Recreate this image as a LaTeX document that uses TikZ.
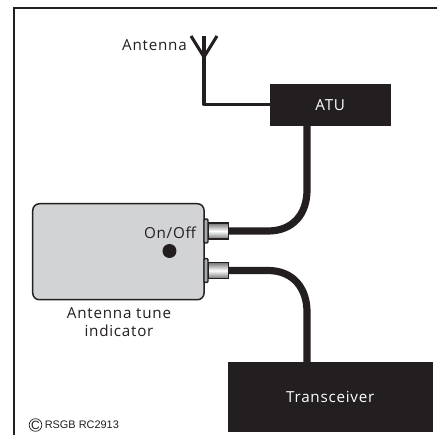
\documentclass[tikz,border=0pt]{standalone}
\usepackage{fontspec}
\setmainfont{Open Sans}[LetterSpace=5]
\newfontfamily\smallf{Liberation Sans}
\definecolor{ink}{HTML}{231F20}
\definecolor{boxgrey}{HTML}{D1D3D4}
\tikzset{
  blackbox/.style={draw=ink,fill=ink,text=white,inner sep=0pt,anchor=north west},
  label/.style={text=ink,inner sep=0pt,font=\fontsize{11.4pt}{13.5pt}\selectfont,align=center},
  cable/.style={draw=ink,line width=5.4pt},
  thin wire/.style={draw=ink,line width=2.3pt,line join=round},
  flange/.style={draw=ink,line width=1pt,fill=boxgrey!80!black,rounded corners=0.8pt},
  barrel/.style={draw=ink,line width=0.9pt,top color=boxgrey!55!black,bottom color=boxgrey!55!black,middle color=white}
}
\begin{document}
\begin{tikzpicture}[x=0.75pt,y=-0.75pt]
\useasboundingbox (0,0) rectangle (437,435);
\fill[white] (0,0) rectangle (437,435);
\draw[ink,line width=0.9pt] (14,435) -- (14,8) -- (437,8);
% boxes
\node[blackbox,minimum width=90pt,minimum height=31pt] (atu) at (270,84) {};
\node[label,text=white] at (atu.center) {ATU};
\node[blackbox,minimum width=153pt,minimum height=52pt] (trx) at (228,362) {};
\node[label,text=white] at (trx.center) {Transceiver};
\node[draw=ink,fill=boxgrey,line width=1.1pt,rounded corners=5pt,minimum width=128.5pt,minimum height=72pt,inner sep=0pt,anchor=north west] (ind) at (32,203) {};
% cables
\coordinate (c1) at (228,231);
\coordinate (c2) at (228,270.5);
\path[cable] (c1) -- (268,231) .. controls (293,231) and (307,214) .. (307,190) -- (atu.south -| 307,126);
\path[cable] (c2) -- (268,270.5) .. controls (293,270.5) and (307,288) .. (307,312) -- (307,362);
% connectors
\node[flange,minimum width=3pt,minimum height=18pt,inner sep=0pt] (f1) at (206,231) {};
\node[barrel,minimum width=15.5pt,minimum height=12pt,inner sep=0pt] (b1) at (218.5,231) {};
\node[flange,minimum width=3pt,minimum height=18pt,inner sep=0pt] (f2) at (206,270.5) {};
\node[barrel,minimum width=15.5pt,minimum height=12pt,inner sep=0pt] (b2) at (218.5,270.5) {};
% antenna
\coordinate (tip) at (204,57);
\coordinate (top) at (204,36);
\coordinate (l) at (191,36);
\coordinate (r) at (217,36);
\draw[thin wire] (top) -- (tip) -- (204,104.5) -- (atu.west |- 0,104.5);
\draw[thin wire] (l) -- (tip) -- (r);
% labels
\node[label,anchor=base east] (ant) at (187,51) {Antenna};
\node[label] (onoff) at (170,233) {On/Off};
\node[circle,fill=ink,minimum size=10.5pt,inner sep=0pt] (led) at (169.5,251) {};
\node[label] (name) at (119,322) {Antenna tune\\indicator};
\node[text=ink,inner sep=0pt,anchor=base west,font=\smallf\fontsize{8.2pt}{10pt}\selectfont] (copy) at (44.5,429) {RSGB RC2913};
\node[circle,draw=ink,line width=0.5pt,minimum size=9.5pt,inner sep=0pt,font=\smallf\fontsize{9pt}{9pt}\selectfont,text=ink] (cc) at (35.5,425) {C};
\end{tikzpicture}
\end{document}
